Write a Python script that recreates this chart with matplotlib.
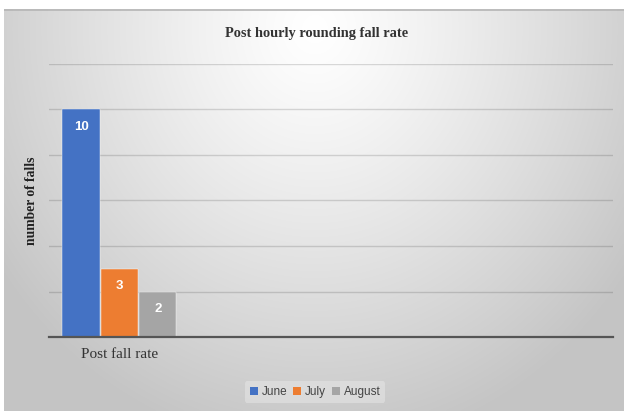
import numpy as np
import matplotlib
matplotlib.use("Agg")
import matplotlib.pyplot as plt
from matplotlib.patches import Patch

categories = ["Post fall rate"]
series_names = ["June", "July", "August"]
series_values = [[10], [3], [2]]
series_colors = ["#4472C4", "#ED7D31", "#A5A5A5"]

W, H = 624, 411
fig = plt.figure(figsize=(W / 100, H / 100), dpi=100)
fig.patch.set_facecolor("white")

# background gradient panel
bg_left, bg_top = 4, 9
bgax = fig.add_axes([bg_left / W, 0, (W - bg_left) / W, (H - bg_top) / H], zorder=0)
bgax.set_axis_off()
ny, nx = 200, 300
yy, xx = np.mgrid[0:ny, 0:nx]
cx, cy = nx * 0.5, ny * 0.05
d = np.sqrt(((xx - cx) / (nx * 0.62)) ** 2 + ((yy - cy) / (ny * 1.05)) ** 2)
d = np.clip(d, 0, 1)
v = 1.0 - 0.23 * d ** 1.2
img = np.dstack([v, v, v])
bgax.imshow(img, aspect="auto", extent=[0, 1, 0, 1], interpolation="bilinear")
bgax.set_xlim(0, 1)
bgax.set_ylim(0, 1)
bgax.plot([0, 1], [0.998, 0.998], color="#b5b5b5", lw=1.2, transform=bgax.transAxes)

ax = fig.add_axes([49 / W, 1 - 337 / H, (613 - 49) / W, (337 - 64) / H], zorder=1)
ax.patch.set_alpha(0)

width = 0.33
x = np.arange(len(categories))
offsets = [-width, 0, width]
for name, vals, col, off in zip(series_names, series_values, series_colors, offsets):
    bars = ax.bar(x + off, vals, width=width * 0.98, color=col, label=name, zorder=3,
                  edgecolor="white", linewidth=0.3)
    for b, val in zip(bars, vals):
        ax.text(b.get_x() + b.get_width() / 2, b.get_height() - 0.75, str(val),
                ha="center", va="center", color="white", fontsize=9.5,
                fontweight="semibold", family="Liberation Sans", zorder=4)

ax.set_ylim(0, 12)
ax.set_xlim(-0.607, 4.255)
ax.set_yticks([2, 4, 6, 8, 10, 12])
ax.yaxis.grid(True, color="black", alpha=0.14, lw=1.0, zorder=0)
ax.tick_params(axis="y", length=0, labelleft=False)
ax.set_xticks(x)
ax.set_xticklabels(categories, family="Liberation Serif", fontsize=11, color="#333333")
ax.tick_params(axis="x", length=0, pad=8)
for s in ["top", "right", "left"]:
    ax.spines[s].set_visible(False)
ax.spines["bottom"].set_color("#555555")
ax.spines["bottom"].set_linewidth(1.6)
ax.spines["bottom"].set_zorder(5)

ax.set_ylabel("number of falls", family="Liberation Serif", fontweight="bold",
              fontsize=9.8, color="#222222", labelpad=8)

fig.text(317 / W, 1 - 33 / H, "Post hourly rounding fall rate", ha="center", va="center",
         family="Liberation Serif", fontweight="bold", fontsize=10.4, color="#333333")

handles = [Patch(facecolor=c, label=n) for n, c in zip(series_names, series_colors)]
leg = fig.legend(handles=handles, loc="center", bbox_to_anchor=(315 / W, 1 - 392 / H),
                 ncol=3, frameon=True, handlelength=0.7, handleheight=0.7,
                 handletextpad=0.3, columnspacing=0.5, borderpad=0.4,
                 prop={"family": "Liberation Sans", "size": 8.5})
leg.get_frame().set_facecolor("#e4e4e4")
leg.get_frame().set_edgecolor("none")
leg.get_frame().set_alpha(0.6)
for t in leg.get_texts():
    t.set_color("#444444")

fig.savefig("out.png", dpi=100, facecolor="white")
